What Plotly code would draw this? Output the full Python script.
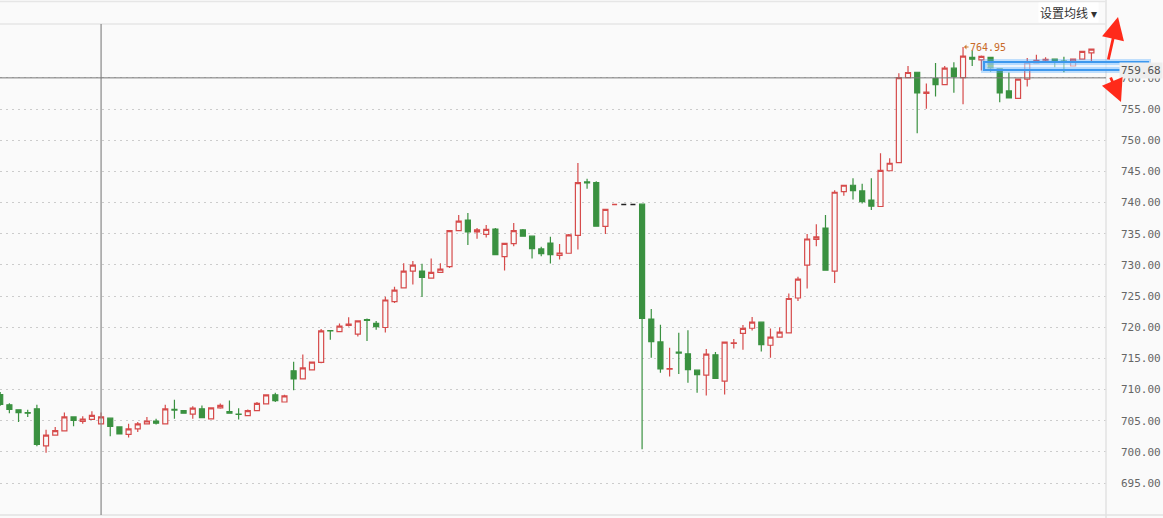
import plotly.graph_objects as go

# ---- data ----
idx = list(range(120))
opens = [709.2, 707.55, 706.75, 706.3, 706.9, 700.95, 702.7, 703.35, 705.6, 704.9,
         705.2, 704.5, 705.4, 704.0, 702.8, 703.7, 704.5, 704.95, 704.5, 706.8,
         706.6, 706.06, 706.9, 705.3, 707.07, 706.45, 706.05, 705.8, 706.6, 707.7,
         709.15, 708.0, 713.0, 711.7, 713.14, 714.36, 719.45, 719.3, 720.3, 718.9,
         721.2, 720.6, 719.95, 724.1, 726.3, 728.99, 729.0, 727.87, 728.8, 729.73,
         735.5, 737.18, 735.27, 734.9, 735.74, 731.33, 733.4, 735.6, 734.6, 732.55,
         733.5, 731.5, 731.86, 734.73, 743.3, 743.2, 736.17, 739.7, 739.7, 739.7,
         739.73, 721.3, 717.64, 713.25, 716.0, 715.72, 713.1, 712.3, 715.56, 711.35,
         717.4, 719.0, 719.83, 720.8, 717.1, 718.4, 719.1, 724.68, 729.95, 734.1,
         735.9, 729.0, 741.75, 742.77, 741.86, 740.4, 739.36, 745.1, 746.4, 760.05,
         760.9, 757.5, 759.9, 758.9, 761.56, 760.05, 763.3, 762.9, 763.3, 761.5,
         757.9, 756.7, 759.8, 762.4, 762.85, 763.0, 762.7, 761.9, 763.0, 764.0]
highs = [709.6, 707.8, 706.75, 706.75, 707.55, 703.56, 704.0, 706.3, 705.7, 705.7,
         706.5, 706.3, 705.4, 704.0, 704.5, 704.8, 705.6, 705.3, 707.55, 708.35,
         706.6, 707.3, 707.45, 707.07, 707.77, 708.25, 707.0, 706.8, 708.0, 709.15,
         709.5, 709.15, 714.47, 715.6, 714.4, 719.7, 719.45, 720.6, 721.6, 721.0,
         721.4, 721.0, 724.9, 726.5, 730.27, 730.6, 730.16, 731.0, 730.27, 735.5,
         738.0, 738.3, 735.9, 736.4, 735.9, 733.46, 736.7, 735.74, 734.6, 732.9,
         734.5, 733.35, 734.95, 746.33, 743.8, 743.4, 738.9, 739.7, 739.7, 739.7,
         739.73, 722.9, 720.4, 716.7, 719.1, 719.5, 713.1, 716.5, 716.0, 717.6,
         718.1, 720.36, 721.64, 720.8, 719.8, 720.0, 725.4, 728.1, 734.95, 736.5,
         738.0, 741.97, 742.77, 743.9, 743.0, 743.9, 747.9, 747.1, 760.75, 761.9,
         760.9, 759.1, 762.4, 761.9, 762.5, 764.95, 764.4, 763.6, 763.3, 761.5,
         760.86, 759.8, 763.2, 763.7, 763.3, 763.0, 763.4, 763.0, 764.25, 764.6]
lows = [707.4, 706.2, 704.8, 705.6, 700.9, 699.84, 702.7, 703.35, 704.1, 704.5,
        705.2, 704.5, 702.5, 702.8, 702.3, 703.2, 704.5, 704.4, 704.5, 705.3,
        706.2, 705.3, 705.4, 705.3, 706.9, 706.2, 705.2, 705.8, 706.6, 707.7,
        708.0, 708.0, 709.9, 711.7, 713.14, 714.2, 718.0, 719.3, 720.1, 718.5,
        717.8, 719.6, 719.15, 723.9, 726.3, 726.86, 724.84, 727.87, 728.8, 729.5,
        735.5, 733.2, 734.2, 734.4, 731.65, 729.1, 733.0, 734.5, 731.0, 731.4,
        730.2, 730.85, 731.86, 732.45, 742.2, 736.1, 734.95, 739.7, 739.7, 739.7,
        700.4, 715.1, 712.7, 712.1, 712.5, 711.1, 709.5, 709.05, 711.77, 709.2,
        716.6, 716.4, 719.45, 716.1, 715.1, 718.4, 719.1, 724.2, 726.2, 733.0,
        729.15, 727.1, 741.1, 740.5, 739.84, 738.8, 739.36, 745.05, 746.4, 760.05,
        751.1, 755.05, 757.0, 758.9, 757.6, 755.75, 761.9, 761.2, 761.0, 756.1,
        756.8, 756.7, 758.6, 762.4, 762.4, 761.7, 760.9, 761.9, 763.0, 762.5]
closes = [707.6, 706.8, 706.3, 706.2, 701.2, 702.7, 703.4, 705.6, 705.05, 705.27,
          705.85, 705.6, 704.1, 702.9, 703.7, 704.5, 704.95, 704.6, 706.9, 706.7,
          706.2, 707.0, 705.5, 707.07, 707.45, 706.2, 706.0, 706.6, 707.77, 709.15,
          708.2, 708.99, 711.7, 713.46, 714.4, 719.4, 719.4, 720.16, 720.5, 721.0,
          721.1, 720.1, 724.36, 725.96, 729.0, 729.95, 728.0, 728.8, 729.3, 735.5,
          737.0, 735.3, 735.6, 735.7, 731.65, 733.46, 735.5, 734.6, 732.6, 731.8,
          731.65, 731.9, 734.8, 743.2, 743.15, 736.2, 738.9, 739.7, 739.7, 739.7,
          721.4, 717.7, 713.3, 713.35, 715.85, 713.2, 712.4, 715.67, 711.77, 717.6,
          717.5, 719.8, 720.8, 717.2, 718.4, 719.2, 724.6, 727.7, 734.15, 734.5,
          729.15, 741.65, 742.77, 741.9, 740.16, 739.4, 745.16, 746.3, 760.05, 760.86,
          757.6, 757.7, 758.9, 761.56, 760.2, 763.5, 763.0, 763.44, 761.6, 757.6,
          756.8, 759.8, 762.5, 762.8, 762.95, 762.5, 762.6, 763.0, 764.25, 764.6]
flat_red_idx = [67]
flat_black_idx = [68, 69]
y_ticks = [695 + 5 * k for k in range(14)]
high_label = "764.95"
cursor_price_label = "759.68"
crosshair_x = 11
crosshair_y = 760

RED = "#d64b4b"
GREEN = "#3a9140"
BG = "#fafafa"

normal = [i for i in idx if i not in flat_red_idx + flat_black_idx]

fig = go.Figure()
fig.add_trace(go.Candlestick(
    x=[idx[i] for i in normal],
    open=[opens[i] for i in normal], high=[highs[i] for i in normal],
    low=[lows[i] for i in normal], close=[closes[i] for i in normal],
    increasing=dict(line=dict(color=RED, width=1.2), fillcolor=BG),
    decreasing=dict(line=dict(color=GREEN, width=1.2), fillcolor=GREEN),
    whiskerwidth=0, hoverinfo="skip", showlegend=False))
for sel, col in ((flat_red_idx, RED), (flat_black_idx, "#222222")):
    fig.add_trace(go.Candlestick(
        x=[idx[i] for i in sel],
        open=[opens[i] for i in sel], high=[highs[i] for i in sel],
        low=[lows[i] for i in sel], close=[closes[i] for i in sel],
        increasing=dict(line=dict(color=col, width=1.5), fillcolor=col),
        decreasing=dict(line=dict(color=col, width=1.5), fillcolor=col),
        whiskerwidth=0, hoverinfo="skip", showlegend=False))

W, H = 1163, 518
ml, mr, mt, mb = 0, 57, 24, 3
pw, ph = W - ml - mr, H - mt - mb


def px_x(p):
    return (p - ml) / pw


def px_y(p):
    return (H - mb - p) / ph


fig.update_layout(
    width=W, height=H, margin=dict(l=ml, r=mr, t=mt, b=mb),
    paper_bgcolor=BG, plot_bgcolor=BG,
    boxgap=0.22,
    xaxis=dict(range=[-0.022, 120.59], showgrid=False, zeroline=False,
               showticklabels=False, ticks="", rangeslider=dict(visible=False),
               showline=False, fixedrange=True),
    yaxis=dict(range=[689.87, 768.64], side="right", tickvals=y_ticks,
               ticktext=["%.2f" % v for v in y_ticks], showgrid=True,
               gridcolor="#cccccc", griddash="2px,4px", gridwidth=1, zeroline=False,
               ticks="", ticklabelstandoff=14, showline=False,
               tickfont=dict(family="DejaVu Sans Mono", size=11, color="#666666")),
    font=dict(family="DejaVu Sans Mono"),
)

shapes = []
# frame lines
shapes.append(dict(type="line", xref="paper", yref="paper", x0=0, x1=px_x(W), y0=0, y1=0,
                   line=dict(color="#e2e2e2", width=1.5)))
shapes.append(dict(type="line", xref="paper", yref="paper", x0=1, x1=1, y0=px_y(H), y1=px_y(0),
                   line=dict(color="#e2e2e2", width=1.5)))
shapes.append(dict(type="line", xref="paper", yref="paper", x0=0, x1=1, y0=1, y1=1,
                   line=dict(color="#e6e6e6", width=1.5)))
shapes.append(dict(type="line", xref="paper", yref="paper", x0=0, x1=1, y0=px_y(1.5), y1=px_y(1.5),
                   line=dict(color="#e6e6e6", width=1.5)))
# crosshair
shapes.append(dict(type="line", xref="x", yref="paper", x0=crosshair_x, x1=crosshair_x, y0=0, y1=1,
                   line=dict(color="#888888", width=1.2)))
shapes.append(dict(type="line", xref="paper", yref="y", x0=0, x1=1, y0=crosshair_y, y1=crosshair_y,
                   line=dict(color="#777777", width=1)))
# blue highlight box (glow + outline)
bx0, bx1, by0, by1 = px_x(984), px_x(1148), px_y(70), px_y(62)
shapes.append(dict(type="rect", xref="paper", yref="paper", x0=bx0, x1=bx1, y0=by0, y1=by1,
                   line=dict(color="rgba(80,170,255,0.35)", width=6),
                   fillcolor="rgba(225,240,255,0.55)"))
shapes.append(dict(type="rect", xref="paper", yref="paper", x0=bx0, x1=bx1, y0=by0, y1=by1,
                   line=dict(color="#3d98ee", width=2.2), fillcolor="rgba(0,0,0,0)"))
fig.update_layout(shapes=shapes)

ann = []
ann.append(dict(x=105, y=highs[105], xref="x", yref="y", text=high_label, showarrow=True,
                ax=25, ay=0, arrowhead=1, arrowsize=0.8, arrowwidth=1, arrowcolor="#d07a30",
                standoff=1, font=dict(family="DejaVu Sans Mono", size=10, color="#c86a28")))
ann.append(dict(x=px_x(1119), y=px_y(71), xref="paper", yref="paper", text=cursor_price_label,
                showarrow=False, xanchor="left", yanchor="middle", bgcolor="#eeeeee",
                borderpad=1, font=dict(family="DejaVu Sans Mono", size=11, color="#555555")))
ann.append(dict(x=px_x(1099), y=px_y(13), xref="paper", yref="paper", text="设置均线 ▾",
                showarrow=False, xanchor="right", yanchor="middle", bgcolor="#ffffff",
                font=dict(family="Noto Sans CJK SC", size=12, color="#333333")))
# red arrows
ann.append(dict(x=px_x(1118), y=px_y(17), xref="paper", yref="paper", text="", showarrow=True,
                ax=-10, ay=44, arrowhead=2, arrowsize=1.6, arrowwidth=2.8, arrowcolor="#ff2a1a"))
ann.append(dict(x=px_x(1121), y=px_y(102), xref="paper", yref="paper", text="", showarrow=True,
                ax=-11, ay=-26, arrowhead=2, arrowsize=1.6, arrowwidth=2.8, arrowcolor="#ff2a1a"))
fig.update_layout(annotations=ann)

fig.write_html("out.html", config={"displayModeBar": False},
               post_script="document.body.style.margin='0px';document.body.style.overflow='hidden';")
